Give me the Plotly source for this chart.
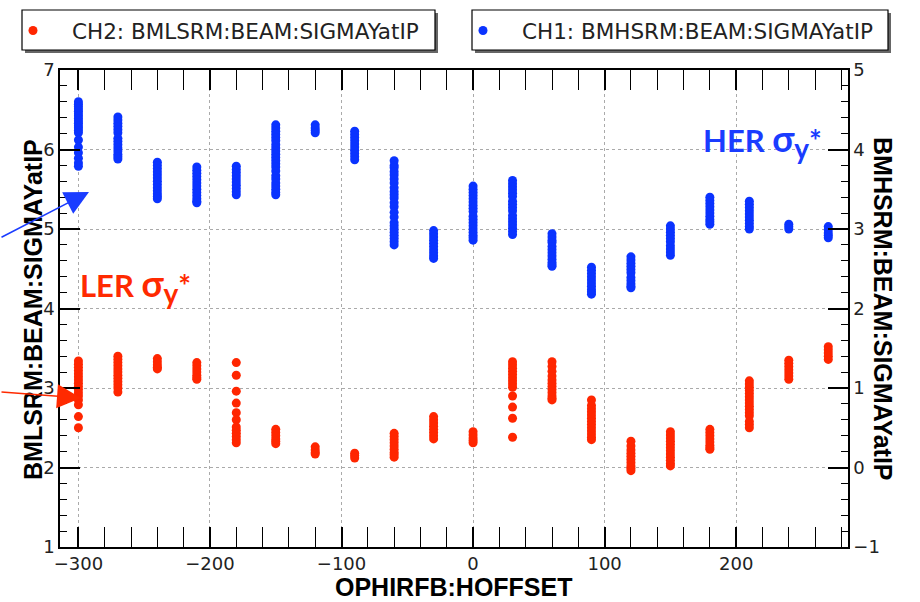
import plotly.graph_objects as go

# Horizontal offset settings (OPHIRFB:HOFFSET)
offsets = [-300, -270, -240, -210, -180, -150, -120, -90, -60, -30,
           0, 30, 60, 90, 120, 150, 180, 210, 240, 270]

# CH2: BMLSRM:BEAM:SIGMAYatIP (LER, left axis) - readings per offset
ler_sigma = [
    [3.34, 3.30, 3.26, 3.22, 3.18, 3.14, 3.10, 3.06, 3.02, 2.98, 2.94, 2.90, 2.85, 2.79, 2.64, 2.50],
    [3.40, 3.36, 3.32, 3.28, 3.24, 3.20, 3.16, 3.12, 3.08, 3.04, 3.00, 2.95],
    [3.37, 3.33, 3.29, 3.26, 3.24],
    [3.32, 3.28, 3.24, 3.20, 3.16, 3.13, 3.11],
    [3.32, 3.16, 2.96, 2.81, 2.69, 2.60, 2.51, 2.47, 2.43, 2.39, 2.35, 2.31],
    [2.48, 2.44, 2.40, 2.36, 2.33, 2.30],
    [2.26, 2.22, 2.19, 2.17],
    [2.18, 2.15, 2.12],
    [2.43, 2.39, 2.35, 2.31, 2.27, 2.23, 2.19, 2.16, 2.13],
    [2.64, 2.60, 2.56, 2.52, 2.48, 2.44, 2.40, 2.36],
    [2.45, 2.41, 2.37, 2.34, 2.31],
    [3.33, 3.29, 3.25, 3.21, 3.17, 3.13, 3.09, 3.05, 3.01, 2.90, 2.76, 2.62, 2.38],
    [3.33, 3.27, 3.21, 3.15, 3.10, 3.06, 3.02, 2.98, 2.94, 2.90, 2.87, 2.85],
    [2.85, 2.78, 2.74, 2.70, 2.66, 2.62, 2.58, 2.54, 2.50, 2.46, 2.42, 2.38, 2.35],
    [2.33, 2.27, 2.22, 2.18, 2.14, 2.10, 2.06, 2.02, 1.99, 1.96],
    [2.45, 2.41, 2.37, 2.33, 2.29, 2.25, 2.21, 2.17, 2.13, 2.09, 2.05, 2.02],
    [2.48, 2.44, 2.40, 2.36, 2.32, 2.28, 2.25, 2.23],
    [3.09, 3.05, 3.01, 2.97, 2.93, 2.89, 2.85, 2.81, 2.77, 2.73, 2.69, 2.65, 2.58, 2.54, 2.50],
    [3.35, 3.31, 3.27, 3.23, 3.19, 3.15, 3.11],
    [3.52, 3.48, 3.44, 3.40, 3.36],
]

# CH1: BMHSRM:BEAM:SIGMAYatIP (HER, right axis) - readings per offset
her_sigma = [
    [4.60, 4.57, 4.54, 4.51, 4.48, 4.45, 4.42, 4.39, 4.36, 4.33, 4.30, 4.27, 4.24, 4.21, 4.12, 4.03, 3.96, 3.89, 3.83, 3.79],
    [4.41, 4.37, 4.33, 4.29, 4.25, 4.21, 4.14, 4.10, 4.06, 4.02, 3.98, 3.94, 3.91, 3.88],
    [3.84, 3.80, 3.76, 3.72, 3.68, 3.64, 3.60, 3.56, 3.52, 3.48, 3.44, 3.41, 3.38],
    [3.78, 3.74, 3.70, 3.66, 3.62, 3.58, 3.54, 3.50, 3.46, 3.42, 3.38, 3.35, 3.33],
    [3.79, 3.75, 3.71, 3.67, 3.63, 3.59, 3.55, 3.51, 3.47, 3.43],
    [4.31, 4.27, 4.23, 4.19, 4.15, 4.11, 4.06, 4.02, 3.98, 3.94, 3.90, 3.86, 3.82, 3.78, 3.73, 3.67, 3.63, 3.58, 3.54, 3.50, 3.46, 3.43],
    [4.31, 4.27, 4.24, 4.21],
    [4.23, 4.19, 4.15, 4.11, 4.07, 4.03, 3.99, 3.95, 3.91, 3.87],
    [3.86, 3.80, 3.77, 3.72, 3.68, 3.63, 3.58, 3.52, 3.47, 3.43, 3.39, 3.33, 3.28, 3.21, 3.15, 3.08, 3.04, 3.00, 2.96, 2.92, 2.88, 2.84, 2.80],
    [2.98, 2.94, 2.90, 2.86, 2.82, 2.78, 2.74, 2.70, 2.66, 2.63],
    [3.54, 3.50, 3.46, 3.42, 3.38, 3.34, 3.30, 3.26, 3.22, 3.16, 3.12, 3.08, 3.04, 3.00, 2.96, 2.92, 2.89, 2.86],
    [3.61, 3.57, 3.53, 3.49, 3.45, 3.41, 3.35, 3.31, 3.27, 3.23, 3.17, 3.13, 3.09, 3.05, 3.01, 2.97, 2.93],
    [2.94, 2.90, 2.86, 2.83, 2.78, 2.74, 2.70, 2.66, 2.62, 2.58, 2.55, 2.53],
    [2.52, 2.48, 2.44, 2.40, 2.36, 2.32, 2.28, 2.24, 2.21, 2.18],
    [2.65, 2.61, 2.57, 2.53, 2.49, 2.45, 2.39, 2.35, 2.31, 2.28, 2.26],
    [3.04, 3.00, 2.96, 2.92, 2.88, 2.84, 2.79, 2.75, 2.71, 2.67],
    [3.40, 3.36, 3.32, 3.28, 3.24, 3.20, 3.16, 3.12, 3.09, 3.06],
    [3.35, 3.31, 3.27, 3.23, 3.19, 3.15, 3.11, 3.07, 3.03, 3.00],
    [3.06, 3.03, 3.00],
    [3.03, 2.99, 2.95, 2.92, 2.89],
]

RED = "#ff2600"
BLUE = "#0a33ff"

def flatten(groups):
    xs, ys = [], []
    for off, vals in zip(offsets, groups):
        for v in vals:
            xs.append(off)
            ys.append(v)
    return xs, ys

lx, ly = flatten(ler_sigma)
hx, hy = flatten(her_sigma)

fig = go.Figure()
fig.add_trace(go.Scatter(
    x=lx, y=ly, mode="markers", name="CH2: BMLSRM:BEAM:SIGMAYatIP",
    marker=dict(color=RED, size=9), legend="legend", yaxis="y", cliponaxis=False))
fig.add_trace(go.Scatter(
    x=hx, y=hy, mode="markers", name="CH1: BMHSRM:BEAM:SIGMAYatIP",
    marker=dict(color=BLUE, size=9), legend="legend2", yaxis="y2", cliponaxis=False))

tickfont = dict(family="DejaVu Sans", size=18, color="#222")
W, H = 920, 602
ML, MR, MT, MB = 60, 72, 70, 55
PW, PH = W - ML - MR, H - MT - MB

def px_x(px):
    return (px - ML) / PW

def px_y(py):
    return (H - MB - py) / PH

legfont = dict(family="DejaVu Sans", size=21.5, color="#222")

fig.update_layout(
    width=W, height=H,
    margin=dict(l=ML, r=MR, t=MT, b=MB, autoexpand=False),
    paper_bgcolor="white", plot_bgcolor="white",
    xaxis=dict(
        range=[-314, 285], showline=True, linecolor="black", linewidth=1.5,
        mirror="allticks", ticks="inside", ticklen=20, tickwidth=1.5, tickcolor="black",
        dtick=100, tick0=0, showgrid=True, gridcolor="#aaaaaa", griddash="dot", gridwidth=1,
        zeroline=False, tickfont=tickfont, automargin=False,
        minor=dict(dtick=20, tick0=0, ticks="inside", ticklen=8, tickwidth=1.2,
                   tickcolor="black", showgrid=False),
    ),
    yaxis=dict(
        range=[1, 7], showline=True, linecolor="black", linewidth=1.5,
        ticks="inside", ticklen=20, tickwidth=1.5, tickcolor="black",
        dtick=1, showgrid=True, gridcolor="#aaaaaa", griddash="dot", gridwidth=1,
        zeroline=False, tickfont=tickfont, automargin=False,
        minor=dict(dtick=0.2, ticks="inside", ticklen=7, tickwidth=1.2,
                   tickcolor="black", showgrid=False),
    ),
    yaxis2=dict(
        range=[-1, 5], overlaying="y", side="right", showline=True, linecolor="black", linewidth=1.5,
        ticks="inside", ticklen=20, tickwidth=1.5, tickcolor="black",
        dtick=1, showgrid=False, zeroline=False, tickfont=tickfont, automargin=False,
        minor=dict(dtick=0.2, ticks="inside", ticklen=7, tickwidth=1.2,
                   tickcolor="black", showgrid=False),
    ),
    legend=dict(
        x=px_x(-6), y=px_y(10), xanchor="left", yanchor="top",
        bgcolor="rgba(0,0,0,0)", borderwidth=0, font=legfont, itemwidth=68,
    ),
    legend2=dict(
        x=px_x(444), y=px_y(10), xanchor="left", yanchor="top",
        bgcolor="rgba(0,0,0,0)", borderwidth=0, font=legfont, itemwidth=68,
    ),
    showlegend=True,
)

# legend boxes with drop shadows
for (x0, x1) in [(22, 435), (472, 888)]:
    fig.add_shape(type="rect", xref="paper", yref="paper",
                  x0=px_x(x0 + 3), x1=px_x(x1 + 3), y0=px_y(10 + 3), y1=px_y(50 + 3),
                  line=dict(width=0), fillcolor="#666666", layer="above")
    fig.add_shape(type="rect", xref="paper", yref="paper",
                  x0=px_x(x0), x1=px_x(x1), y0=px_y(10), y1=px_y(50),
                  line=dict(color="black", width=1.2), fillcolor="white", layer="above")

titlefont = dict(family="Liberation Sans", size=25, color="black")
# axis titles
fig.add_annotation(
    text="<b>OPHIRFB:HOFFSET</b>", xref="paper", yref="paper",
    x=px_x(454), y=px_y(587), xanchor="center", yanchor="middle", showarrow=False,
    font=titlefont)
fig.add_annotation(
    text="<b>BMLSRM:BEAM:SIGMAYatIP</b>", xref="paper", yref="paper",
    x=px_x(33), y=px_y(310), xanchor="center", yanchor="middle", textangle=-90, showarrow=False,
    font=titlefont)
fig.add_annotation(
    text="<b>BMHSRM:BEAM:SIGMAYatIP</b>", xref="paper", yref="paper",
    x=px_x(883), y=px_y(309), xanchor="center", yanchor="middle", textangle=90, showarrow=False,
    font=titlefont)

# beam labels
fig.add_annotation(
    text="<b>HER <span style='font-size:36px'>σ</span><sub><span style='font-size:28px'>y</span></sub>"
         "<span style='font-size:30px'>*</span></b>",
    xref="paper", yref="paper",
    x=px_x(701), y=px_y(140), xanchor="left", yanchor="middle", showarrow=False,
    font=dict(family="Lato", size=31, color="#1a3cff"))
fig.add_annotation(
    text="<b>LER <span style='font-size:36px'>σ</span><sub><span style='font-size:28px'>y</span></sub>"
         "<span style='font-size:30px'>*</span></b>",
    xref="paper", yref="paper",
    x=px_x(78), y=px_y(285), xanchor="left", yanchor="middle", showarrow=False,
    font=dict(family="Lato", size=31, color="#ff2a00"))

# arrows pointing at the data
fig.add_annotation(
    text="", xref="paper", yref="paper", x=px_x(89), y=px_y(192),
    ax=-96, ay=46, showarrow=True, arrowhead=2, arrowsize=3.2, arrowwidth=1.5,
    arrowcolor="#1a3cff")
fig.add_annotation(
    text="", xref="paper", yref="paper", x=px_x(81), y=px_y(398),
    ax=-90, ay=-6, showarrow=True, arrowhead=2, arrowsize=3.2, arrowwidth=1.5,
    arrowcolor="#ff2a00")

fig.write_html("out.html")
